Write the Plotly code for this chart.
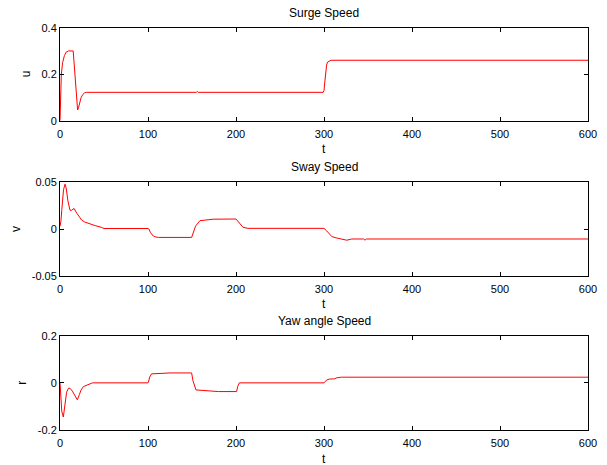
import plotly.graph_objects as go

# ---- data ----
t_u = [0, 0.8, 1.5, 3, 5, 7, 9.5, 15, 16, 17.5, 18.5, 20, 21, 22, 24, 26, 28, 30,
       155, 156, 157, 299, 300, 301, 302, 303, 304, 306, 308, 600]
u = [0.0, 0.13, 0.2, 0.25, 0.28, 0.295, 0.3, 0.3, 0.25, 0.15, 0.09, 0.046, 0.055, 0.075,
     0.1, 0.113, 0.12, 0.122, 0.122, 0.126, 0.122, 0.122, 0.13, 0.17, 0.21, 0.24, 0.252,
     0.258, 0.26, 0.26]

t_v = [0, 1, 2, 4, 5.7, 7, 9, 11.4, 13, 16, 19, 22, 24.6, 28, 32, 36, 40, 47, 50,
       100, 101, 103, 106, 109, 111.7, 149.6, 151, 154, 159, 174, 200, 203, 208, 213.6,
       300, 303, 306, 309, 315, 320, 326, 331.5, 345, 346.6, 348, 600]
v = [0.003, 0.008, 0.02, 0.042, 0.048, 0.044, 0.03, 0.02, 0.02, 0.022, 0.017, 0.013,
     0.0096, 0.0075, 0.006, 0.0045, 0.0036, 0.0018, 0.0005,
     0.0005, 0.0, -0.004, -0.0075, -0.0085, -0.009, -0.009, -0.005, 0.003, 0.0089,
     0.0105, 0.0107, 0.007, 0.0018, 0.0007,
     0.0007, -0.002, -0.0055, -0.0082, -0.0098, -0.011, -0.012, -0.0107, -0.0107,
     -0.012, -0.0107, -0.0107]

t_r = [0, 1, 2, 3.8, 5.5, 7.5, 9.5, 11.4, 14, 17, 19.7, 22, 24, 26.5, 30, 33, 37,
       100, 100.4, 102, 104, 125, 149.6, 151, 153, 154.5, 180, 200.7, 202, 203.8,
       300, 303, 306, 312, 315, 320, 600]
r = [0.0, -0.08, -0.12, -0.145, -0.1, -0.04, -0.023, -0.023, -0.035, -0.055, -0.072,
     -0.05, -0.03, -0.016, -0.01, -0.005, 0.0,
     0.0, 0.002, 0.025, 0.038, 0.042, 0.042, 0.01, -0.02, -0.03, -0.037, -0.037,
     -0.015, 0.0,
     0.0, 0.012, 0.016, 0.017, 0.022, 0.024, 0.024]

titles = ["Surge Speed", "Sway Speed", "Yaw angle Speed"]
ylabels = ["u", "v", "r"]
x_ticks = [0, 100, 200, 300, 400, 500, 600]
y_ticks = [[0, 0.2, 0.4], [-0.05, 0, 0.05], [-0.2, 0, 0.2]]
y_ticktext = [["0", "0.2", "0.4"], ["-0.05", "0", "0.05"], ["-0.2", "0", "0.2"]]
y_ranges = [[0, 0.4], [-0.05, 0.05], [-0.2, 0.2]]

W, H = 607, 465
x0_px, x1_px = 60, 588
boxes_px = [(27.7, 120.7), (182.3, 275.7), (335.7, 430.0)]  # top, bottom in pixels
title_y_px = [13, 167, 321]
xlabel_y_px = [149, 304, 459]
ylabel_x_px = [26, 16, 22]

font = dict(family="Liberation Sans, Arial, sans-serif", size=11, color="black")
title_font = dict(font, size=12)

fig = go.Figure()
series = [(t_u, u), (t_v, v), (t_r, r)]
for i, (tx, ty) in enumerate(series):
    sfx = "" if i == 0 else str(i + 1)
    fig.add_trace(go.Scatter(x=tx, y=ty, mode="lines",
                             line=dict(color="#ff0000", width=1),
                             xaxis="x" + sfx, yaxis="y" + sfx, showlegend=False,
                             hoverinfo="skip"))
    top, bot = boxes_px[i]
    dom_y = [1 - bot / H, 1 - top / H]
    axis_common = dict(showgrid=False, zeroline=False, showline=True, linecolor="black",
                       linewidth=1, mirror="ticks", ticks="inside", ticklen=4,
                       tickcolor="black", tickfont=font, automargin=False)
    fig.layout["xaxis" + sfx] = dict(axis_common, domain=[x0_px / W, x1_px / W],
                                     range=[0, 600], tickvals=x_ticks,
                                     anchor="y" + sfx, ticklabelstandoff=3)
    fig.layout["yaxis" + sfx] = dict(axis_common, domain=dom_y, range=y_ranges[i],
                                     tickvals=y_ticks[i], ticktext=y_ticktext[i],
                                     anchor="x" + sfx)
    fig.add_annotation(text=titles[i], x=(x0_px + x1_px) / 2 / W, y=1 - title_y_px[i] / H,
                       xref="paper", yref="paper", showarrow=False, font=title_font,
                       xanchor="center", yanchor="middle")
    fig.add_annotation(text="t", x=(x0_px + x1_px) / 2 / W, y=1 - xlabel_y_px[i] / H,
                       xref="paper", yref="paper", showarrow=False, font=title_font,
                       xanchor="center", yanchor="middle")
    fig.add_annotation(text=ylabels[i], x=ylabel_x_px[i] / W, y=1 - (top + bot) / 2 / H,
                       xref="paper", yref="paper", showarrow=False, font=title_font,
                       textangle=-90, xanchor="center", yanchor="middle")

fig.update_layout(width=W, height=H, margin=dict(l=0, r=0, t=0, b=0, autoexpand=False),
                  paper_bgcolor="white", plot_bgcolor="white", font=font)

fig.write_html("out.html", config={"displayModeBar": False},
               post_script="document.body.style.margin='0px';document.body.style.overflow='hidden';")
